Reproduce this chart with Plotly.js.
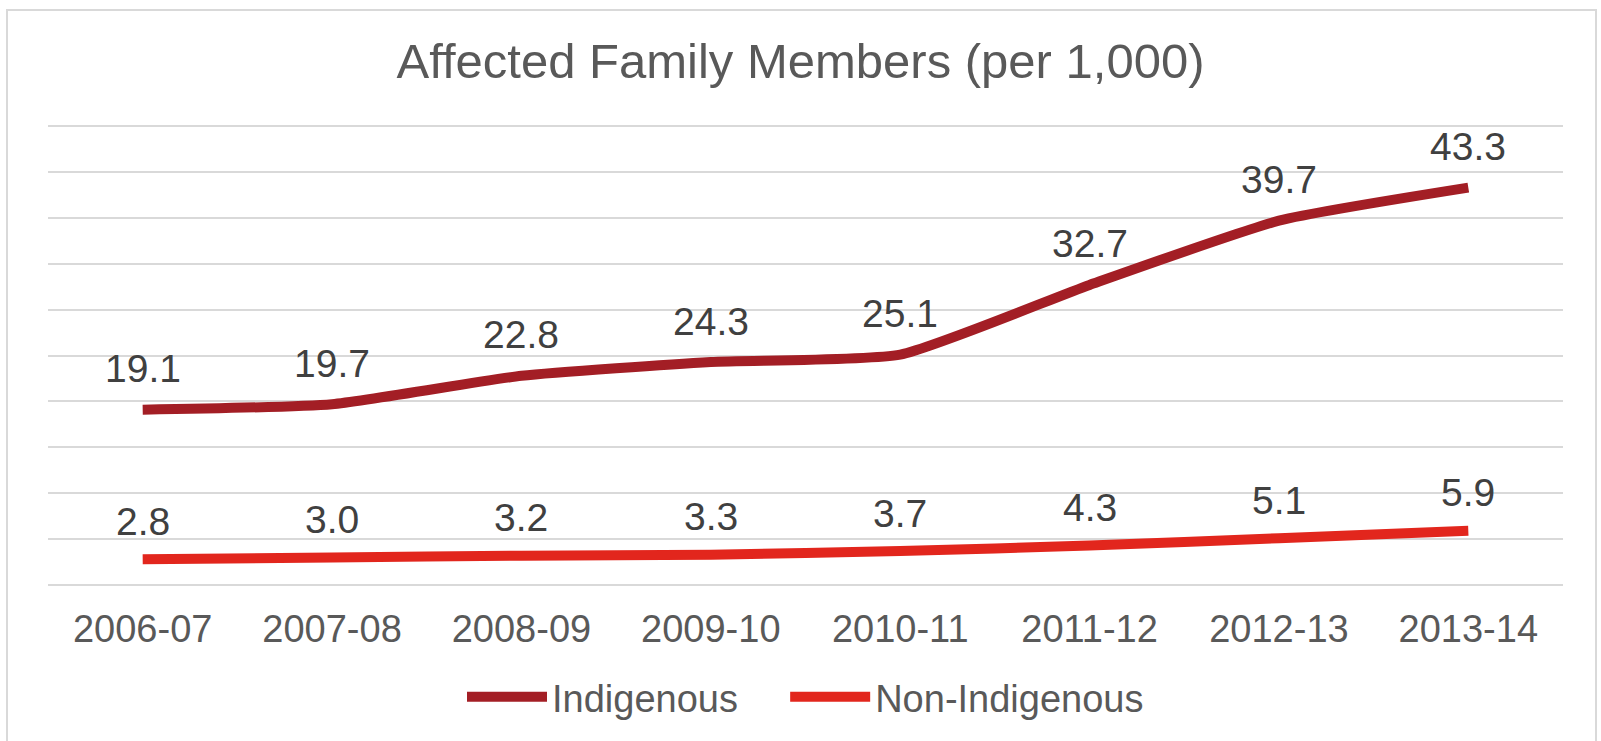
<!DOCTYPE html>
<html>
<head>
<meta charset="utf-8">
<script src="https://cdn.plot.ly/plotly-3.0.1.min.js"></script>
<style>html,body{margin:0;padding:0;background:#fff;}#chart{width:1601px;height:741px;}</style>
</head>
<body>
<div id="chart"></div>
<script>
const categories = ["2006-07","2007-08","2008-09","2009-10","2010-11","2011-12","2012-13","2013-14"];
const indigenous = [19.1, 19.7, 22.8, 24.3, 25.1, 32.7, 39.7, 43.3];
const nonIndigenous = [2.8, 3.0, 3.2, 3.3, 3.7, 4.3, 5.1, 5.9];
const seriesNames = ["Indigenous", "Non-Indigenous"];
const chartTitle = "Affected Family Members (per 1,000)";

const FONT = "Liberation Sans, Arial, sans-serif";
const colors = ["#A31E25", "#E2261D"];
const NBSP_GAP = "\u00a0\u00a0\u00a0\u00a0";

const xs = categories.map((c, i) => i);

const traces = [
  {x: xs, y: indigenous, name: seriesNames[0] + NBSP_GAP, type: "scatter", mode: "lines",
   line: {color: colors[0], width: 10, shape: "spline", smoothing: 0.5}, hoverinfo: "skip"},
  {x: xs, y: nonIndigenous, name: seriesNames[1], type: "scatter", mode: "lines",
   line: {color: colors[1], width: 10, shape: "spline", smoothing: 0.5}, hoverinfo: "skip"}
];

const annotations = [];
[indigenous, nonIndigenous].forEach((arr, s) => {
  arr.forEach((v, i) => {
    annotations.push({x: xs[i], y: v, xref: "x", yref: "y", text: v.toFixed(1),
      showarrow: false, yanchor: "middle", yshift: s === 0 ? 41 : 38,
      font: {family: FONT, size: 39, color: "#404040"}});
  });
});

const PH = 741 - 117 - 156;

const layout = {
  width: 1601, height: 741,
  margin: {l: 48, r: 38, t: 117, b: 156},
  paper_bgcolor: "#ffffff", plot_bgcolor: "#ffffff",
  title: {text: chartTitle, x: 0.5, xanchor: "center", y: 1 - 61/741, yanchor: "middle", yref: "container",
    font: {family: FONT, size: 49, color: "#595959"}},
  xaxis: {type: "linear", range: [-0.5, 7.5], tickmode: "array", tickvals: xs, ticktext: categories,
    showgrid: false, zeroline: false, showline: false, ticks: "outside", ticklen: 10, tickcolor: "rgba(0,0,0,0)",
    tickfont: {family: FONT, size: 38, color: "#595959"}, fixedrange: true},
  yaxis: {range: [0, 51], tickmode: "linear", tick0: 0, dtick: 5, showticklabels: false, showgrid: true, gridcolor: "#d9d9d9", gridwidth: 2,
    zeroline: true, zerolinecolor: "#d9d9d9", zerolinewidth: 2, showline: false, ticks: "", fixedrange: true},
  showlegend: true,
  legend: {orientation: "h", x: 0.5, xanchor: "center", y: -112/PH, yanchor: "middle",
    font: {family: FONT, size: 38, color: "#595959"}, itemwidth: 80, bgcolor: "rgba(0,0,0,0)"},
  annotations: annotations,
  shapes: [{type: "rect", xref: "paper", yref: "paper", x0: -41/1515, x1: 1 + 33/1515, y0: -170/PH, y1: 1 + 107/PH,
    line: {color: "#d9d9d9", width: 2}, fillcolor: "rgba(0,0,0,0)", layer: "below"}]
};

Plotly.newPlot("chart", traces, layout, {displayModeBar: false, staticPlot: true});
</script>
</body>
</html>
